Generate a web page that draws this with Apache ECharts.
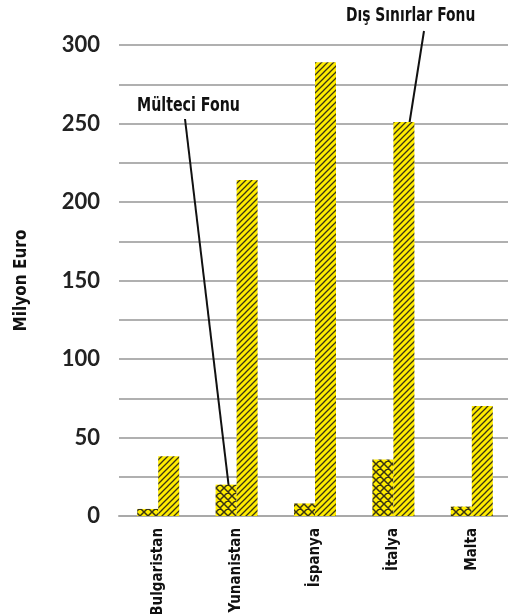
<!DOCTYPE html>
<html>
<head>
<meta charset="utf-8">
<script src="https://cdn.jsdelivr.net/npm/echarts@6/dist/echarts.min.js"></script>
<style>
  html, body { margin: 0; padding: 0; background: #fff; }
  #chart { width: 508px; height: 614px; }
</style>
</head>
<body>
<div id="chart"></div>
<script>
// ülkeler ve fon tutarları (milyon euro)
const countries = ['Bulgaristan', 'Yunanistan', 'İspanya', 'İtalya', 'Malta'];
const refugeeFund = [4.5, 20, 8, 36, 6];
const borderFund = [38, 214, 289, 251, 70];
const yTicks = [0, 50, 100, 150, 200, 250, 300];

const YELLOW = '#ffec00';
const INK = '#3a3414';
const CONDENSED = '"Liberation Sans Narrow", "DejaVu Sans Condensed", sans-serif';

// çapraz taralı desen
function crossPattern() {
  const s = 8;
  const c = document.createElement('canvas');
  c.width = s; c.height = s;
  const ctx = c.getContext('2d');
  ctx.fillStyle = YELLOW;
  ctx.fillRect(0, 0, s, s);
  ctx.strokeStyle = INK;
  ctx.lineWidth = 1.5;
  ctx.beginPath();
  for (let k = -1; k <= 1; k++) {
    ctx.moveTo(k * s - 1, s + 1); ctx.lineTo(k * s + s + 1, -1);
    ctx.moveTo(k * s - 1, -1); ctx.lineTo(k * s + s + 1, s + 1);
  }
  ctx.stroke();
  return c;
}

// eğik çizgili desen
function stripePattern() {
  const s = 6;
  const c = document.createElement('canvas');
  c.width = s; c.height = s;
  const ctx = c.getContext('2d');
  ctx.fillStyle = YELLOW;
  ctx.fillRect(0, 0, s, s);
  ctx.strokeStyle = INK;
  ctx.lineWidth = 1.3;
  ctx.beginPath();
  for (let k = -1; k <= 1; k++) {
    ctx.moveTo(k * s - 1, s + 1); ctx.lineTo(k * s + s + 1, -1);
  }
  ctx.stroke();
  return c;
}

const chart = echarts.init(document.getElementById('chart'));
const BAR_W = 21;

const option = {
  animation: false,
  grid: { left: 119, right: -3, top: 45, bottom: 98, containLabel: false, outerBoundsMode: 'none' },
  xAxis: {
    type: 'category',
    data: countries,
    axisLine: { lineStyle: { color: '#a9a9a9', width: 2 } },
    axisTick: { show: false },
    axisLabel: {
      rotate: 90,
      margin: 12,
      color: '#111',
      fontFamily: CONDENSED,
      fontWeight: 'bold',
      fontSize: 15,
    },
  },
  yAxis: {
    type: 'value',
    min: 0,
    max: 300,
    interval: 25,
    name: 'Milyon Euro',
    nameLocation: 'middle',
    nameRotate: 90,
    nameGap: 89,
    nameTextStyle: {
      color: '#111',
      fontFamily: CONDENSED,
      fontWeight: 'bold',
      fontSize: 17,
    },
    axisLine: { show: false },
    axisTick: { show: false },
    axisLabel: {
      margin: 19,
      color: '#222',
      fontFamily: 'Lato, "Open Sans", sans-serif',
      fontWeight: 'bold',
      fontSize: 22,
      padding: [0, 0, 5, 0],
      formatter: (v) => (yTicks.includes(v) ? String(v) : ''),
    },
    splitLine: { lineStyle: { color: '#b0b0b0', width: 2 } },
  },
  series: [
    {
      name: 'Mülteci Fonu',
      type: 'bar',
      barWidth: BAR_W,
      barGap: '0%',
      itemStyle: { color: { image: crossPattern(), repeat: 'repeat' } },
      data: refugeeFund,
    },
    {
      name: 'Dış Sınırlar Fonu',
      type: 'bar',
      barWidth: BAR_W,
      barGap: '0%',
      itemStyle: { color: { image: stripePattern(), repeat: 'repeat' } },
      data: borderFund,
    },
  ],
};
chart.setOption(option);

// açıklama çizgileri: uçları eksen üzerinden hesapla
const pRef = chart.convertToPixel({ gridIndex: 0 }, [1, 17]);
const pBor = chart.convertToPixel({ gridIndex: 0 }, [3, 236]);
const noteStyle = {
  fontFamily: CONDENSED, fontWeight: 'bold', fontSize: 20, fill: '#111',
  verticalAlign: 'top', align: 'left',
};
chart.setOption({
  graphic: [
    {
      type: 'text', x: 137, y: 96, scaleX: 0.79,
      style: Object.assign({ text: 'Mülteci Fonu' }, noteStyle),
    },
    {
      type: 'line',
      shape: { x1: 185, y1: 119, x2: pRef[0] - BAR_W / 2 + 3, y2: pRef[1] },
      style: { stroke: '#111', lineWidth: 2 },
    },
    {
      type: 'text', x: 346, y: 6, scaleX: 0.77,
      style: Object.assign({ text: 'Dış Sınırlar Fonu' }, noteStyle),
    },
    {
      type: 'line',
      shape: { x1: 424, y1: 31, x2: pBor[0] + BAR_W / 2 + 2, y2: pBor[1] },
      style: { stroke: '#111', lineWidth: 2 },
    },
  ],
});
</script>
</body>
</html>
